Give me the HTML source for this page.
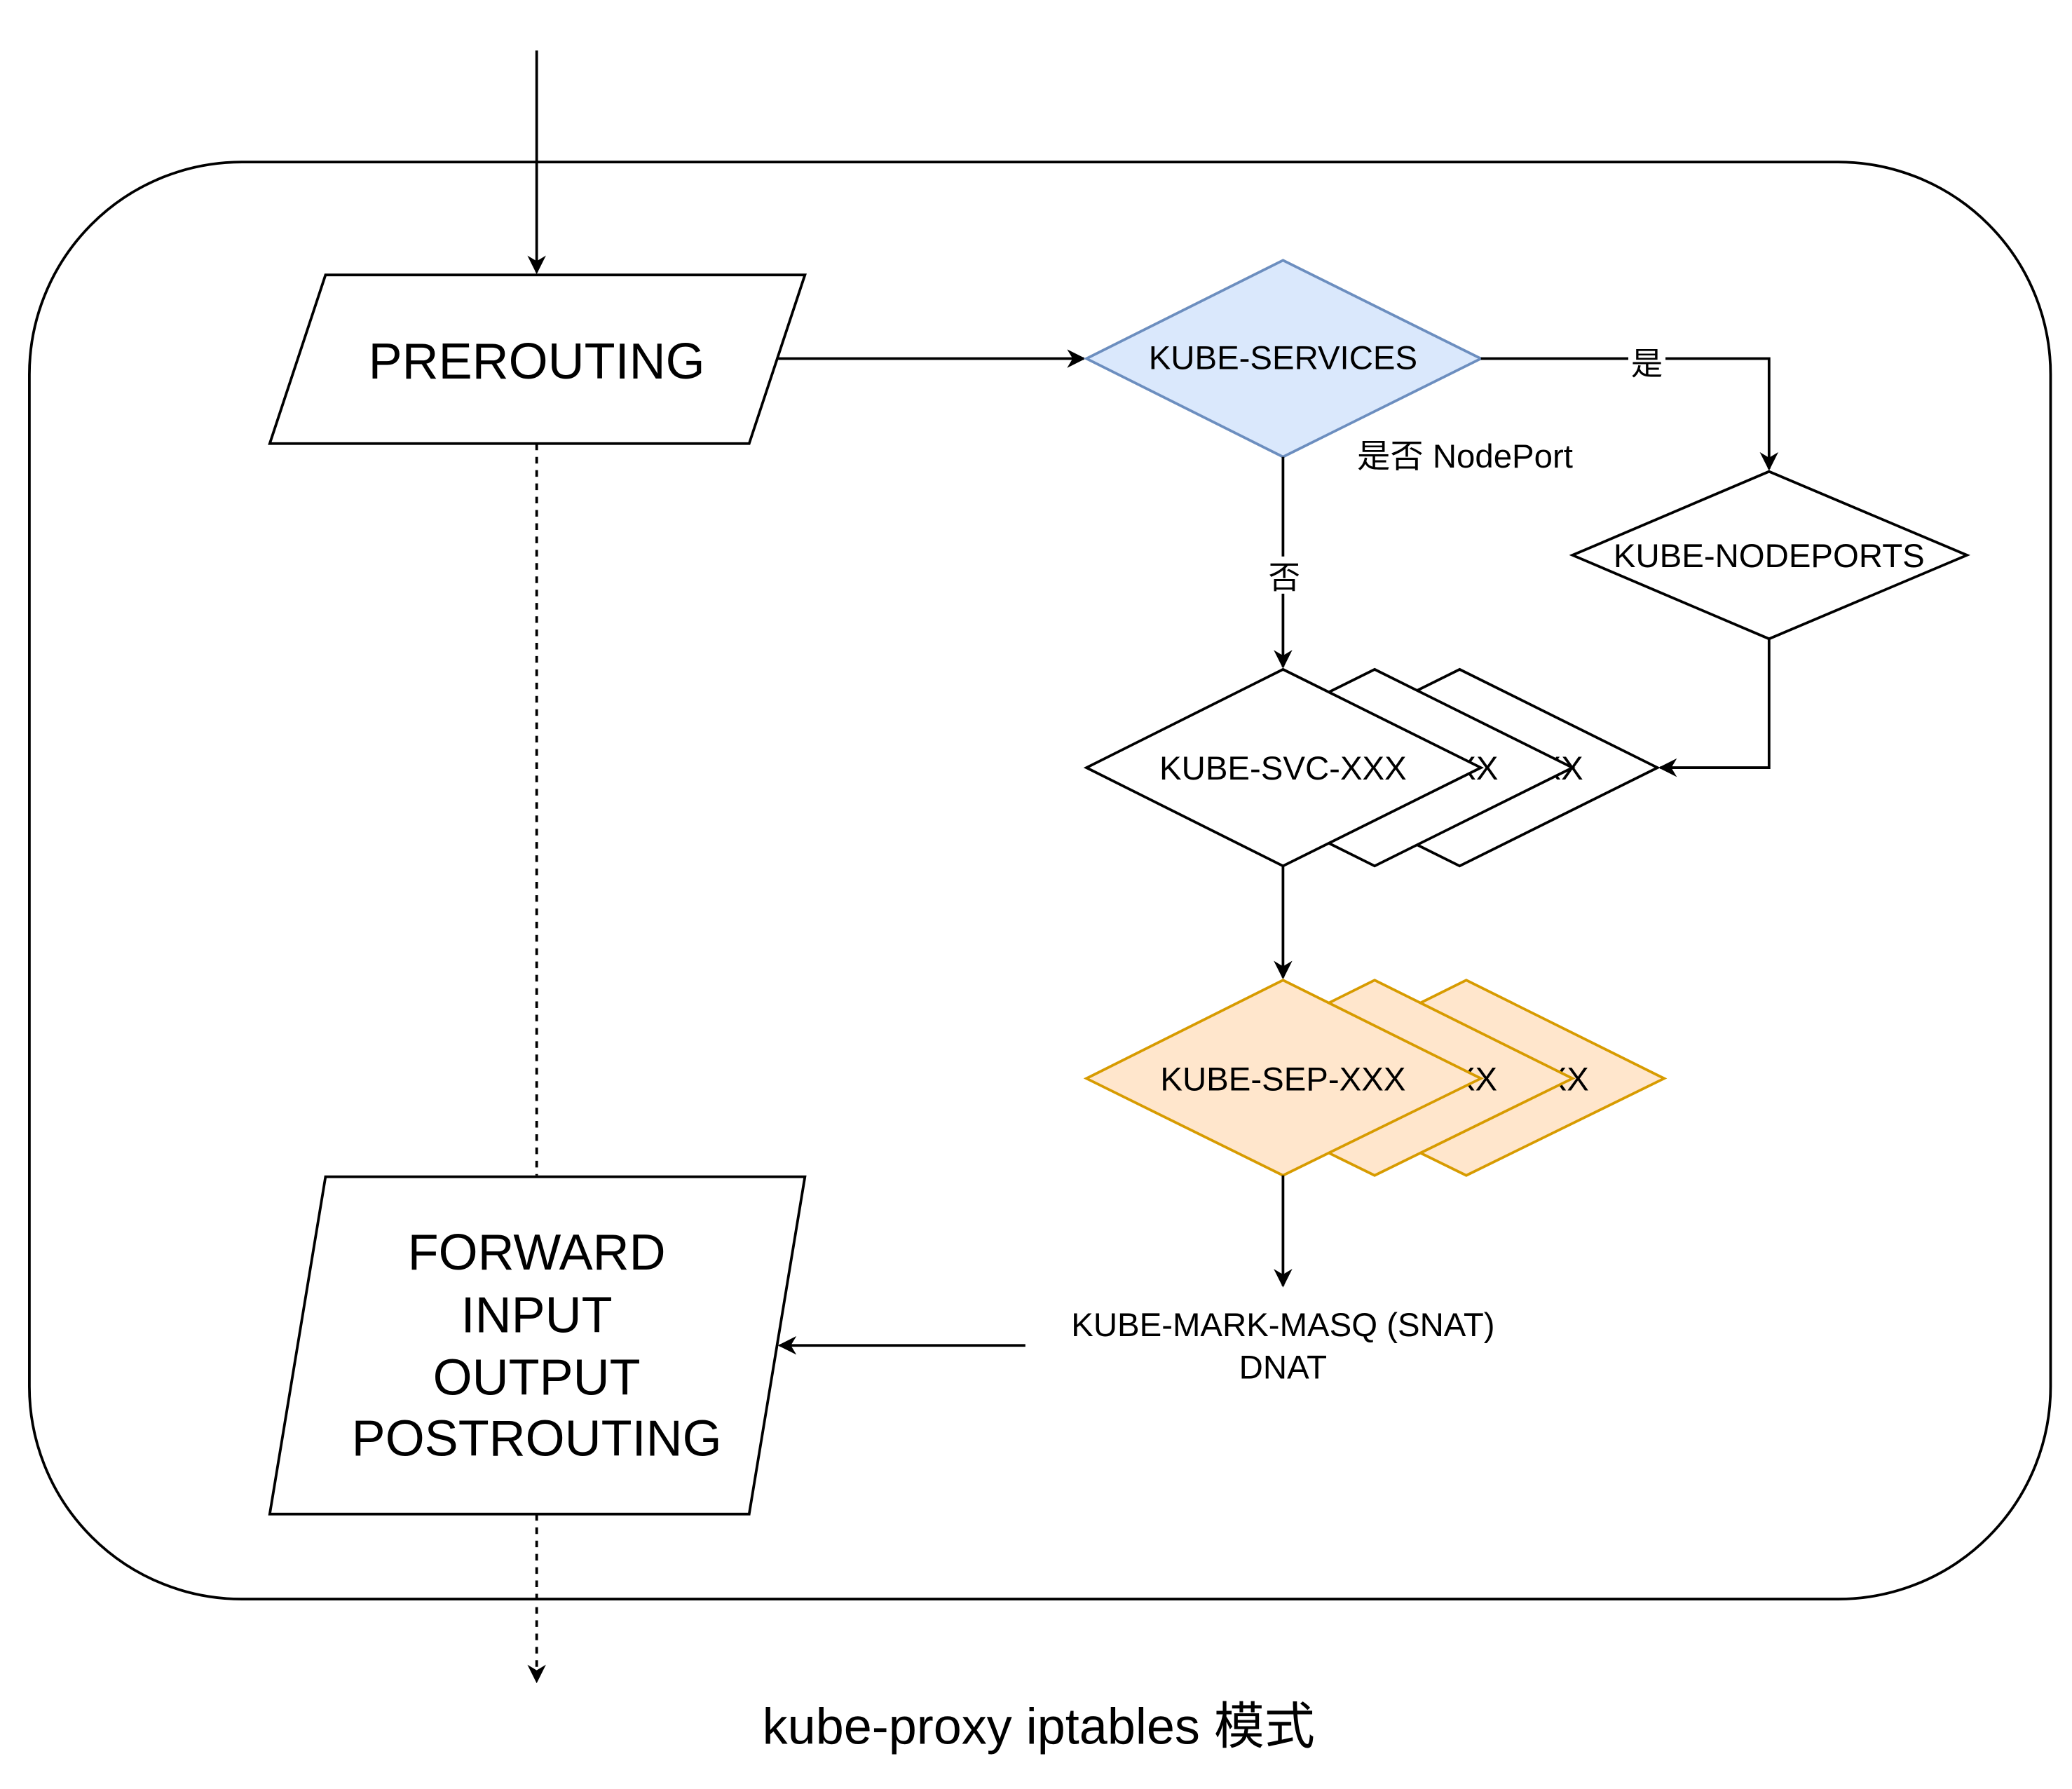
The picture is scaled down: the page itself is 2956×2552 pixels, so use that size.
<!DOCTYPE html>
<html><head><style>html,body{margin:0;padding:0;background:#fff}svg{display:block}</style></head><body>
<svg width="2956" height="2552" viewBox="0 0 1560 1347" xmlns="http://www.w3.org/2000/svg" font-family="'Liberation Sans','Noto Sans CJK SC',sans-serif">
<defs><marker id="a" viewBox="0 0 10 10" refX="9" refY="5" markerWidth="14" markerHeight="14" orient="auto" markerUnits="userSpaceOnUse"><path d="M0,0 L10,5 L0,10 L3,5 Z" fill="#000"/></marker></defs>
<rect x="22" y="122" width="1522" height="1082" rx="160" fill="#fff" stroke="#000" stroke-width="2"/>
<line x1="404" y1="38" x2="404" y2="205" stroke="#000" stroke-width="2" marker-end="url(#a)"/>
<polygon points="245,207 606,207 564,334 203,334" fill="#fff" stroke="#000" stroke-width="2"/>
<text x="404" y="285" font-size="38" text-anchor="middle">PREROUTING</text>
<line x1="404" y1="334" x2="404" y2="885" stroke="#000" stroke-width="2" stroke-dasharray="5,5"/>
<line x1="404" y1="1140" x2="404" y2="1266" stroke="#000" stroke-width="2" stroke-dasharray="5,5" marker-end="url(#a)"/>
<polygon points="245,886 606,886 564,1140 203,1140" fill="#fff" stroke="#000" stroke-width="2"/>
<g font-size="38" text-anchor="middle"><text x="404" y="956">FORWARD</text><text x="404" y="1003">INPUT</text><text x="404" y="1050">OUTPUT</text><text x="404" y="1096">POSTROUTING</text></g>
<line x1="585" y1="270" x2="816" y2="270" stroke="#000" stroke-width="2" marker-end="url(#a)"/>
<polygon points="966,196 1115,270 966,344 818,270" fill="#dae8fc" stroke="#6c8ebf" stroke-width="2"/>
<text x="966" y="278" font-size="25" text-anchor="middle">KUBE-SERVICES</text>
<polyline points="1115,270 1332,270 1332,353" fill="none" stroke="#000" stroke-width="2" marker-end="url(#a)"/>
<rect x="1226" y="258" width="28" height="28" fill="#fff"/>
<text x="1240" y="282" font-size="24" text-anchor="middle">是</text>
<text x="1103" y="352" font-size="25" text-anchor="middle">是否 NodePort</text>
<line x1="966" y1="344" x2="966" y2="502" stroke="#000" stroke-width="2" marker-end="url(#a)"/>
<rect x="953" y="419" width="28" height="28" fill="#fff"/>
<text x="967" y="443" font-size="24" text-anchor="middle">否</text>
<polygon points="1332,355 1481,418 1332,481 1184,418" fill="#fff" stroke="#000" stroke-width="2"/>
<text x="1332" y="427" font-size="25" text-anchor="middle">KUBE-NODEPORTS</text>
<polyline points="1332,481 1332,578 1250,578" fill="none" stroke="#000" stroke-width="2" marker-end="url(#a)"/>
<g stroke="#000" stroke-width="2" fill="#fff" font-size="25" text-anchor="middle">
<polygon points="1099,504 1248,578 1099,652 950,578"/><text x="1099" y="587" stroke="none" fill="#000">KUBE-SVC-XXX</text>
<polygon points="1035,504 1184,578 1035,652 886,578"/><text x="1035" y="587" stroke="none" fill="#000">KUBE-SVC-XXX</text>
<polygon points="966,504 1115,578 966,652 818,578"/><text x="966" y="587" stroke="none" fill="#000">KUBE-SVC-XXX</text>
</g>
<line x1="966" y1="652" x2="966" y2="736" stroke="#000" stroke-width="2" marker-end="url(#a)"/>
<g stroke="#d79b00" stroke-width="2" fill="#ffe6cc" font-size="25" text-anchor="middle">
<polygon points="1104,738 1253,812 1104,885 955,812"/><text x="1104" y="821" stroke="none" fill="#000">KUBE-SEP-XXX</text>
<polygon points="1035,738 1184,812 1035,885 886,812"/><text x="1035" y="821" stroke="none" fill="#000">KUBE-SEP-XXX</text>
<polygon points="966,738 1115,812 966,885 818,812"/><text x="966" y="821" stroke="none" fill="#000">KUBE-SEP-XXX</text>
</g>
<line x1="966" y1="885" x2="966" y2="968" stroke="#000" stroke-width="2" marker-end="url(#a)"/>
<text x="966" y="1006" font-size="25" text-anchor="middle">KUBE-MARK-MASQ (SNAT)</text>
<text x="966" y="1038" font-size="25" text-anchor="middle">DNAT</text>
<line x1="772" y1="1013" x2="587" y2="1013" stroke="#000" stroke-width="2" marker-end="url(#a)"/>
<text x="782" y="1313" font-size="38" text-anchor="middle">kube-proxy iptables 模式</text>
</svg>
</body></html>
